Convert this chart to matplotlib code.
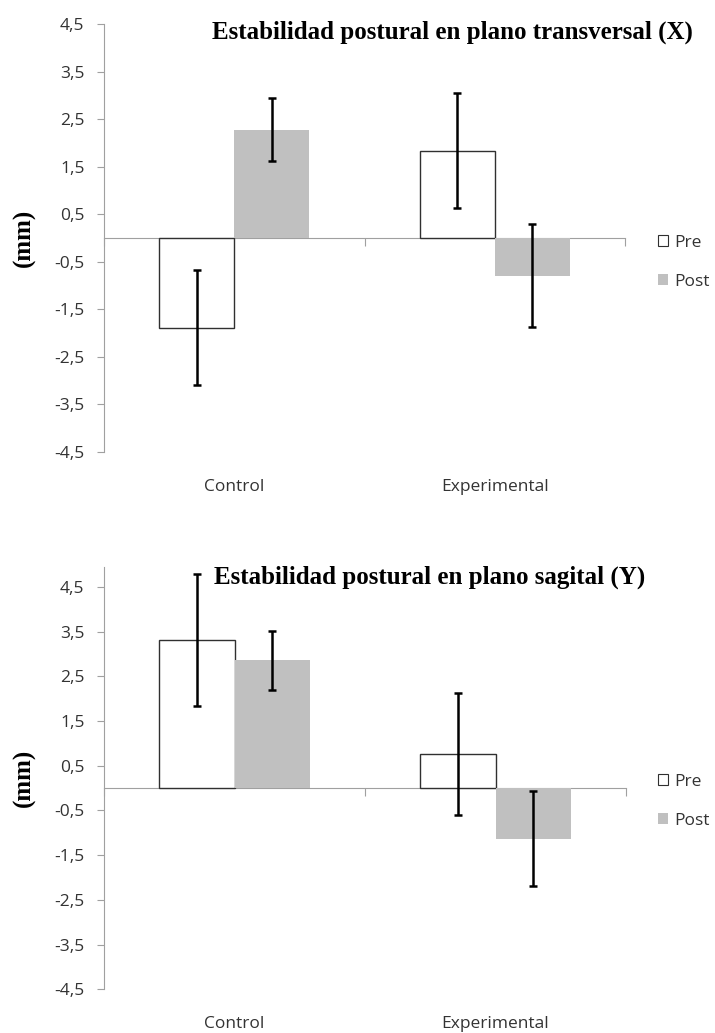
import numpy as np
import matplotlib.pyplot as plt
from matplotlib.patches import Patch
from matplotlib.transforms import blended_transform_factory

# data
categories = ["Control", "Experimental"]
series = ["Pre", "Post"]

x_pre = [-1.89, 1.84]
x_post = [2.28, -0.79]
x_pre_err = [1.21, 1.21]
x_post_err = [0.66, 1.08]

y_pre = [3.31, 0.76]
y_post = [2.86, -1.13]
y_pre_err = [1.48, 1.37]
y_post_err = [0.66, 1.07]

ytick_vals = [-4.5, -3.5, -2.5, -1.5, -0.5, 0.5, 1.5, 2.5, 3.5, 4.5]
ytick_labels = ["-4,5", "-3,5", "-2,5", "-1,5", "-0,5", "0,5", "1,5", "2,5", "3,5", "4,5"]

titles = ["Estabilidad postural en plano transversal (X)",
          "Estabilidad postural en plano sagital (Y)"]

plt.rcParams['font.family'] = ['Open Sans', 'DejaVu Sans']

AXIS_COL = "#a0a0a0"
TEXT_COL = "#333333"
POST_COL = "#c0c0c0"
FS = 12.5

fig = plt.figure(figsize=(7.15, 10.33), dpi=100)


def panel(rect, pre, post, pre_err, post_err, ylim, title, title_xy, leg_xy):
    ax = fig.add_axes(rect)
    x = np.arange(len(categories))
    w = 0.288
    ax.bar(x - w / 2, pre, w, color="white", edgecolor="#303030", linewidth=1.0, zorder=2)
    ax.bar(x + w / 2, post, w, color=POST_COL, edgecolor="none", zorder=2)
    ax.errorbar(x - w / 2, pre, yerr=pre_err, fmt="none", ecolor="black",
                elinewidth=1.8, capsize=3.2, capthick=1.8, zorder=3)
    ax.errorbar(x + w / 2, post, yerr=post_err, fmt="none", ecolor="black",
                elinewidth=1.8, capsize=3.2, capthick=1.8, zorder=3)

    ax.set_xlim(-0.5, 1.5)
    ax.set_ylim(*ylim)
    for s in ["top", "right"]:
        ax.spines[s].set_visible(False)
    ax.spines["bottom"].set_position(("data", 0))
    ax.spines["bottom"].set_color(AXIS_COL)
    ax.spines["left"].set_color(AXIS_COL)
    ax.spines["bottom"].set_zorder(1)

    ax.set_yticks(ytick_vals)
    ax.set_yticklabels(ytick_labels)
    ax.tick_params(axis="y", direction="out", length=5, color=AXIS_COL,
                   labelcolor=TEXT_COL, labelsize=FS, pad=9)
    ax.set_xticks([-0.5, 0.5, 1.5])
    ax.set_xticklabels([])
    ax.tick_params(axis="x", direction="out", length=5.5, color=AXIS_COL)

    tr = blended_transform_factory(ax.transData, ax.transAxes)
    y0 = -35 / (rect[3] * 1033)
    for i, c in enumerate(categories):
        ax.text(i, y0, c, transform=tr, ha="center", va="center",
                fontsize=FS, color=TEXT_COL)

    # y label placed at a fixed figure position, centred on the axis
    fig.text(24 / 715, rect[1] + rect[3] / 2, "(mm)", family="Liberation Serif",
             fontweight="bold", fontsize=18, rotation=90, ha="center", va="center")

    fig.text(title_xy[0], title_xy[1], title, family="Liberation Serif",
             fontweight="bold", fontsize=18, ha="center", va="center")

    handles = [Patch(facecolor="white", edgecolor="#303030", linewidth=0.8),
               Patch(facecolor=POST_COL, edgecolor="none")]
    fig.legend(handles, series, loc="upper left", bbox_to_anchor=leg_xy,
               frameon=False, fontsize=FS, handlelength=0.6, handleheight=0.6,
               handletextpad=0.35, labelspacing=1.32, labelcolor=TEXT_COL,
               borderaxespad=0, borderpad=0)
    return ax


panel([104 / 715, 1 - 451.7 / 1033, 521 / 715, 427.4 / 1033],
      x_pre, x_post, x_pre_err, x_post_err, (-4.5, 4.5),
      titles[0], (452 / 715, 1 - 32 / 1033), (658 / 715, 1 - 235 / 1033))

panel([104 / 715, 1 - 989.3 / 1033, 522 / 715, 422.6 / 1033],
      y_pre, y_post, y_pre_err, y_post_err, (-4.5, 4.95),
      titles[1], (430 / 715, 1 - 577 / 1033), (658 / 715, 1 - 774 / 1033))

fig.savefig("out.png", dpi=100)
